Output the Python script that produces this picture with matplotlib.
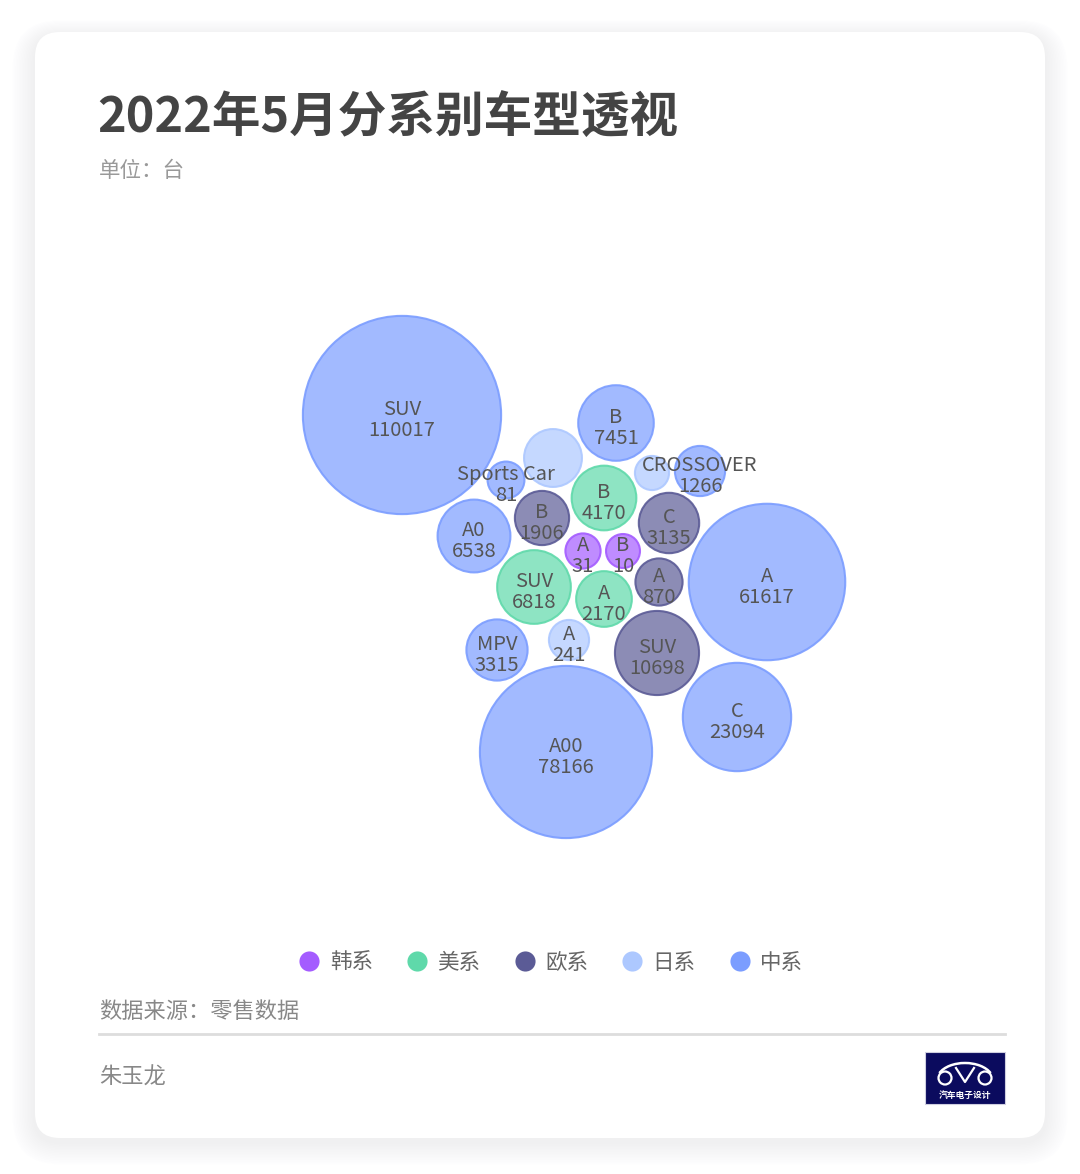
import matplotlib
matplotlib.use("Agg")
import matplotlib.pyplot as plt
from matplotlib.patches import Circle, FancyBboxPatch, Rectangle, Arc
from matplotlib.lines import Line2D
import numpy as np

plt.rcParams['font.family'] = ['Noto Sans CJK SC', 'DejaVu Sans']

# ---- data ----
groups = ['韩系', '美系', '欧系', '日系', '中系']
group_colors = ['#a45cff', '#5fd9aa', '#5b5b96', '#adc8ff', '#7b9dff']

names = ['SUV', 'B', 'SUV', 'B', 'CROSSOVER', 'Sports Car', 'B', 'B', 'C', 'A0',
         'A', 'B', 'A', 'A', 'SUV', 'A', 'MPV', 'A', 'SUV', 'C', 'A00']
values = [110017, 7451, 2600, 12, 1266, 81, 4170, 1906, 3135, 6538,
          31, 10, 870, 61617, 6818, 2170, 3315, 241, 10698, 23094, 78166]
series = ['中系', '中系', '日系', '日系', '中系', '中系', '美系', '欧系', '欧系', '中系',
          '韩系', '韩系', '欧系', '中系', '美系', '美系', '中系', '日系', '欧系', '中系', '中系']
show_label = [True, True, False, False, True, True, True, True, True, True,
              True, True, True, True, True, True, True, True, True, True, True]

# packed-bubble layout (centres, in pixel space of the figure)
layout_x = [402, 616, 553, 652, 700, 506, 604, 542, 669, 474,
            583, 623, 659, 767, 534, 604, 497, 569, 657, 737, 566]
layout_y = [415, 423, 458, 473, 471, 480, 498, 518, 523, 536,
            551, 551, 582, 582, 587, 599, 650, 640, 653, 717, 752]

W, H = 1080, 1174
fig = plt.figure(figsize=(W / 100, H / 100), dpi=100)
fig.patch.set_facecolor('white')
ax = fig.add_axes((0, 0, 1, 1))
ax.set_xlim(0, W)
ax.set_ylim(H, 0)
ax.axis('off')

# ---- card with soft shadow ----
cx0, cy0, cx1, cy1 = 35, 32, 1045, 1138
for i in range(14, 0, -1):
    grow = i * 1.6
    ax.add_patch(FancyBboxPatch((cx0 - grow, cy0 - grow * 0.7 + 4), cx1 - cx0 + 2 * grow,
                                cy1 - cy0 + 2 * grow * 0.85,
                                boxstyle=f"round,pad=0,rounding_size={25 + grow}",
                                facecolor='#a9a9c8', edgecolor='none', alpha=0.011, zorder=0))
ax.add_patch(FancyBboxPatch((cx0, cy0), cx1 - cx0, cy1 - cy0,
                            boxstyle="round,pad=0,rounding_size=25",
                            facecolor='white', edgecolor='none', zorder=1))

# ---- titles ----
ax.text(97, 117, '2022年5月分系别车型透视', fontsize=35, fontweight='bold',
        color='#444444', va='center', ha='left', zorder=5)
ax.text(99, 171, '单位：台', fontsize=15.5, color='#999999', va='center', ha='left', zorder=5)


# ---- bubbles ----
def radius(v):
    return 16.2 + 0.25 * np.sqrt(v)


cmap = dict(zip(groups, group_colors))
for n, v, s, lab, x, y in zip(names, values, series, show_label, layout_x, layout_y):
    c = cmap[s]
    ax.add_patch(Circle((x, y), radius(v), facecolor=c, alpha=0.7, edgecolor='none', zorder=3))
    ax.add_patch(Circle((x, y), radius(v), facecolor='none', edgecolor=c, lw=1.5,
                        alpha=0.9, zorder=3))
    if lab:
        ax.text(x, y + 5, f'{n}\n{v}', fontsize=14.5, color='#555555', ha='center', va='center',
                linespacing=0.95, zorder=4)

# ---- legend ----
handles = [Line2D([0], [0], marker='o', linestyle='none', markersize=14.5,
                  markerfacecolor=c, markeredgecolor='none') for c in group_colors]
fig.legend(handles, groups, loc='center', bbox_to_anchor=(551 / W, 1 - 963 / H), ncol=5,
           frameon=False, fontsize=15.5, handlelength=1.0, handletextpad=0.45,
           columnspacing=1.55, labelcolor='#666666')

# ---- footer ----
ax.text(99, 1011, '数据来源：零售数据', fontsize=16, color='#888888', va='center', ha='left', zorder=5)
ax.plot([99, 1005], [1034, 1034], color='#dddddd', lw=2, zorder=5)
ax.text(99, 1077, '朱玉龙', fontsize=16, color='#888888', va='center', ha='left', zorder=5)

# logo
ax.add_patch(Rectangle((925, 1052), 80, 52, facecolor='#0b0b5e', edgecolor='#cfcfe0', lw=0.8, zorder=5))
ax.add_patch(Arc((965, 1080), 56, 34, theta1=195, theta2=345, color='white', lw=1.8, zorder=6))
ax.add_patch(Circle((945, 1078), 6.5, facecolor='none', edgecolor='white', lw=1.6, zorder=6))
ax.add_patch(Circle((985, 1078), 6.5, facecolor='none', edgecolor='white', lw=1.6, zorder=6))
ax.plot([956, 965, 974], [1068, 1082, 1068], color='white', lw=1.6, zorder=6)
ax.text(965, 1095, '汽车电子设计', fontsize=6.3, color='white', fontweight='bold',
        ha='center', va='center', zorder=6)

fig.savefig('out.png', dpi=100, facecolor='white')
